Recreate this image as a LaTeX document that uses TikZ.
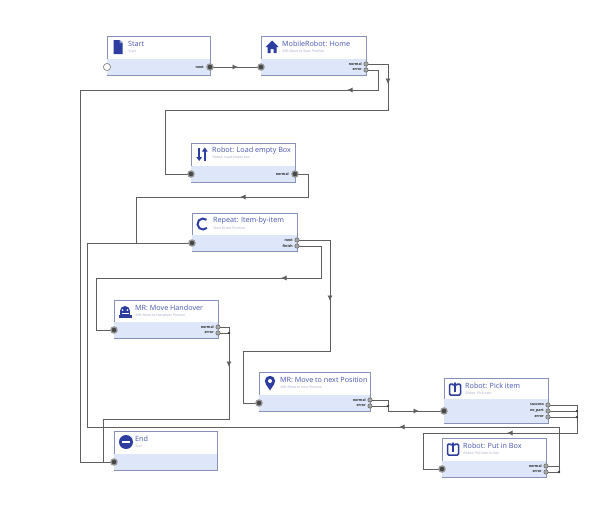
\documentclass[tikz,border=0pt]{standalone}
\usepackage{fontspec}
\setmainfont{Open Sans}
\usetikzlibrary{calc,arrows.meta,decorations.markings}
\definecolor{bordc}{RGB}{135,145,185}
\definecolor{bandc}{RGB}{221,231,249}
\definecolor{ttlc}{RGB}{70,85,175}
\definecolor{subc}{RGB}{160,166,195}
\definecolor{iconc}{RGB}{45,62,160}
\definecolor{linec}{RGB}{95,95,95}
\tikzset{
  wbox/.style={draw=bordc, line width=0.8pt, fill=white, inner sep=0pt, outer sep=0pt},
  ttl/.style={text=ttlc, font=\fontsize{7.2}{8}\selectfont, inner sep=0pt},
  sublab/.style={text=subc, font=\fontsize{3.4}{4}\selectfont, inner sep=0pt},
  plab/.style={font=\bfseries\fontsize{3.6}{4}\selectfont, inner sep=0pt, anchor=east, text=black!85},
  conn/.style={draw=linec, line width=0.75pt},
  arrowat/.style={postaction={decorate}, decoration={markings, mark=at position #1 with {\arrow{Latex[length=5.5pt,width=5pt]}}}},
  ico/.style={fill=iconc},
  icol/.style={draw=iconc},
}
\newcommand\wfbox[8]{%
  \node[wbox, minimum width=#4pt, minimum height=#5pt, anchor=north west] (#1) at (#2,#3) {};
  \fill[bandc] ($(#1.south west)+(0.4pt,0.4pt)$) rectangle ($(#1.south east)+(-0.4pt,#6pt)$);
  \node[ttl, anchor=west] (#1-t) at ($(#1.north west)+(21pt,-7.5pt)$) {#7};
  \node[sublab, anchor=west] (#1-s) at ($(#1.north west)+(21.5pt,-15pt)$) {#8};
  \coordinate (#1-ic) at ($(#1.north west)+(11pt,-11pt)$);
}
\newcommand\bigport[1]{\fill[black!40] (#1) circle (3.8pt); \fill[black!72] (#1) circle (2.3pt);}
\newcommand\smallport[1]{\fill[black!35, draw=black!60, line width=0.5pt] (#1) circle (2.2pt);}
\newcommand\jdot[1]{\fill[black!75] (#1) circle (1.4pt);}
\begin{document}
\begin{tikzpicture}[x=1pt,y=-1pt]
\fill[white] (0,0) rectangle (600,530);
\useasboundingbox (0,0) rectangle (600,530);

% ---------- boxes ----------
\wfbox{start}{107}{36}{103}{39}{16}{Start}{Start}
\wfbox{home}{261}{36}{105}{39}{16}{MobileRobot: Home}{MR: Move to Start Position}
\wfbox{load}{191}{143}{104}{39}{16}{Robot: Load empty Box}{Robot: Load empty box}
\wfbox{repeat}{192}{213}{105}{38}{16}{Repeat: Item-by-item}{Next Order Position}
\wfbox{handover}{114}{300}{104}{38}{16}{MR: Move Handover}{MR: Move to Handover Position}
\wfbox{movenext}{259}{372}{111}{39}{16}{MR: Move to next Position}{MR: Move to next Position}
\wfbox{pick}{444}{378}{104}{45}{24}{Robot: Pick item}{Robot: Pick item}
\wfbox{put}{442}{438}{104}{39}{16}{Robot: Put in Box}{Robot: Put item in box}
\wfbox{end}{114}{431}{103}{39}{16}{End}{End}

% ---------- icons ----------
\begin{scope}[shift={(start-ic)}]
  \fill[ico] (-4.5,-7) -- (1.5,-7) -- (4.5,-4) -- (4.5,7) -- (-4.5,7) -- cycle;
  \fill[iconc!55] (1.5,-7) -- (1.5,-4) -- (4.5,-4) -- cycle;
\end{scope}
\begin{scope}[shift={(home-ic)}]
  \fill[ico] (-6.5,0) -- (0,-6.5) -- (6.5,0) -- (4.5,0) -- (4.5,6) -- (1.5,6) -- (1.5,2) -- (-1.5,2) -- (-1.5,6) -- (-4.5,6) -- (-4.5,0) -- cycle;
\end{scope}
\begin{scope}[shift={(load-ic)}]
  \draw[icol, line width=2pt, -{Triangle[length=4pt,width=5.5pt]}] (-2.8,-6.5) -- (-2.8,7);
  \draw[icol, line width=2pt, -{Triangle[length=4pt,width=5.5pt]}] (2.8,7) -- (2.8,-6.5);
\end{scope}
\begin{scope}[shift={(repeat-ic)}]
  \draw[icol, line width=2pt] (50:5.5pt) arc (50:315:5.5pt);
\end{scope}
\begin{scope}[shift={(handover-ic)}]
  \fill[ico] (-6.5,3.5) rectangle (6.5,6.5);
  \fill[ico] (-5,0) rectangle (5,3.5);
  \fill[ico] (-5,0) arc (180:0:5pt);
  \fill[white] (-2.4,-1) circle (0.9pt);
  \fill[white] (2.4,-1) circle (0.9pt);
  \fill[white] (-3.5,1.8) rectangle (3.5,2.4);
\end{scope}
\begin{scope}[shift={(movenext-ic)}]
  \fill[ico] (0,-2) circle (5.2pt);
  \fill[ico] (-4.6,0.5) -- (0,7.5) -- (4.6,0.5) -- cycle;
  \fill[white] (0,-2) circle (2pt);
\end{scope}
\foreach \b in {pick,put}{
\begin{scope}[shift={(\b-ic)}]
  \draw[icol, line width=1.5pt, rounded corners=1.2pt] (-2.2,-5) -- (-5.5,-5) -- (-5.5,6) -- (5.5,6) -- (5.5,-5) -- (2.2,-5);
  \draw[icol, line width=1.5pt, -{Triangle[length=3.5pt,width=5pt]}] (0,3) -- (0,-7);
\end{scope}}
\begin{scope}[shift={(end-ic)}]
  \fill[ico] (1,0) circle (7pt);
  \fill[white] (-3,-1.1) rectangle (5,1.1);
\end{scope}

% ---------- ports ----------
\coordinate (start-in) at (107,67);
\coordinate (start-next) at (210,67);
\coordinate (home-in) at (261,67);
\coordinate (home-normal) at (366,64);
\coordinate (home-error) at (366,70);
\coordinate (load-in) at (191,174);
\coordinate (load-normal) at (295,174);
\coordinate (repeat-in) at (192,243);
\coordinate (repeat-next) at (297,240);
\coordinate (repeat-finish) at (297,246);
\coordinate (handover-in) at (114,330);
\coordinate (handover-normal) at (218,327);
\coordinate (handover-error) at (218,333);
\coordinate (movenext-in) at (259,403);
\coordinate (movenext-normal) at (370,400);
\coordinate (movenext-error) at (370,406);
\coordinate (pick-in) at (444,411);
\coordinate (pick-success) at (548,405);
\coordinate (pick-nopart) at (548,411);
\coordinate (pick-error) at (548,417);
\coordinate (put-in) at (442,469);
\coordinate (put-normal) at (546,466);
\coordinate (put-error) at (546,472);
\coordinate (end-in) at (114,462);

% ---------- connectors ----------
\draw[conn, arrowat=28pt] (start-next) -- (home-in);
\draw[conn, arrowat=42pt] (home-normal) -- ++(22,0) |- (165,110) |- (load-in);
\draw[conn, arrowat=63pt] (home-error) -- ++(12,0) |- (80,90) |- (end-in);
\draw[conn, arrowat=104pt] (load-normal) -- ++(13,0) |- (136,197) |- (repeat-in);
\draw[conn, arrowat=212pt] (put-normal) -- ++(13,0) |- (87,427) |- (repeat-in);
\draw[conn] (put-error) -- ++(13,0) coordinate (j-put) -- ++(0,-6);
\draw[conn, arrowat=94pt] (repeat-next) -- ++(33,0) |- (243,351) |- (movenext-in);
\draw[conn, arrowat=96pt] (repeat-finish) -- ++(24,0) |- (96,278) |- (handover-in);
\draw[conn, arrowat=51pt] (handover-normal) -- ++(11,0) |- (103,419) |- (end-in);
\draw[conn] (handover-error) -- ++(11,0) coordinate (j-ho);
\draw[conn, arrowat=60pt] (movenext-normal) -- ++(18,0) |- (pick-in);
\draw[conn] (movenext-error) -- ++(18,0) coordinate (j-mn);
\draw[conn, arrowat=127pt] (pick-success) -- ++(29,0) |- (423,433) |- (put-in);
\draw[conn] (pick-nopart) -- ++(29,0) coordinate (j-pk1);
\draw[conn] (pick-error) -- ++(29,0) coordinate (j-pk2);
\jdot{j-put} \jdot{j-ho} \jdot{j-mn} \jdot{j-pk1} \jdot{j-pk2}

% port circles
\fill[white, draw=black!45, line width=0.7pt] (start-in) circle (3.6pt);
\foreach \p in {start-next,home-in,load-in,load-normal,repeat-in,handover-in,movenext-in,pick-in,put-in,end-in}{\bigport{\p}}
\foreach \p in {home-normal,home-error,repeat-next,repeat-finish,handover-normal,handover-error,movenext-normal,movenext-error,pick-success,pick-nopart,pick-error,put-normal,put-error}{\smallport{\p}}

% port labels
\node[plab] (l1) at ($(start-next)+(-6pt,0)$) {next};
\node[plab] (l2) at ($(home-normal)+(-4pt,0)$) {normal};
\node[plab] (l3) at ($(home-error)+(-4pt,0)$) {error};
\node[plab] (l4) at ($(load-normal)+(-6pt,0)$) {normal};
\node[plab] (l5) at ($(repeat-next)+(-4pt,0)$) {next};
\node[plab] (l6) at ($(repeat-finish)+(-4pt,0)$) {finish};
\node[plab] (l7) at ($(handover-normal)+(-4pt,0)$) {normal};
\node[plab] (l8) at ($(handover-error)+(-4pt,0)$) {error};
\node[plab] (l9) at ($(movenext-normal)+(-4pt,0)$) {normal};
\node[plab] (l10) at ($(movenext-error)+(-4pt,0)$) {error};
\node[plab] (l11) at ($(pick-success)+(-4pt,0)$) {success};
\node[plab] (l12) at ($(pick-nopart)+(-4pt,0)$) {no\_part};
\node[plab] (l13) at ($(pick-error)+(-4pt,0)$) {error};
\node[plab] (l14) at ($(put-normal)+(-4pt,0)$) {normal};
\node[plab] (l15) at ($(put-error)+(-4pt,0)$) {error};
\end{tikzpicture}
\end{document}
